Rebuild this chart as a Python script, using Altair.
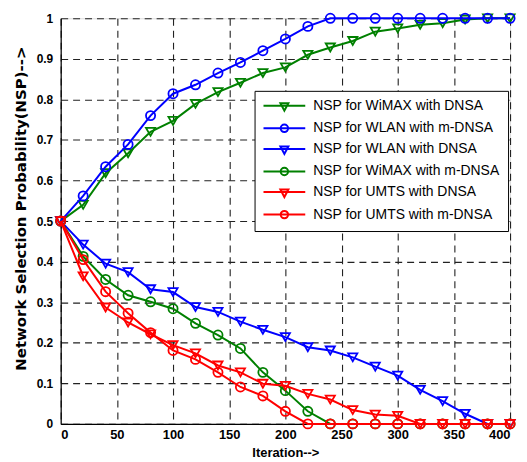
import altair as alt
import pandas as pd

iterations = list(range(0, 401, 20))

series_names = [
    "NSP for WiMAX with DNSA",
    "NSP for WLAN with m-DNSA",
    "NSP for WLAN with DNSA",
    "NSP for WiMAX with m-DNSA",
    "NSP for UMTS with DNSA",
    "NSP for UMTS with m-DNSA",
]
series_colors = ["#008000", "#0000ff", "#0000ff", "#008000", "#ff0000", "#ff0000"]
series_markers = ["triangle-down", "circle", "triangle-down", "circle", "triangle-down", "circle"]

wimax_dnsa = [0.5, 0.540, 0.618, 0.667, 0.720, 0.747, 0.789, 0.818, 0.841, 0.865, 0.879,
              0.910, 0.928, 0.944, 0.967, 0.975, 0.984, 0.988, 0.997, 1.0, 1.0]
wlan_mdnsa = [0.5, 0.562, 0.634, 0.689, 0.760, 0.814, 0.836, 0.865, 0.891, 0.920, 0.949,
              0.980, 1.0, 1.0, 1.0, 1.0, 1.0, 1.0, 1.0, 1.0, 1.0]
wlan_dnsa = [0.5, 0.442, 0.395, 0.374, 0.332, 0.325, 0.288, 0.276, 0.252, 0.232, 0.214,
             0.189, 0.181, 0.164, 0.141, 0.119, 0.084, 0.056, 0.025, 0.0, 0.0]
wimax_mdnsa = [0.5, 0.413, 0.356, 0.317, 0.301, 0.284, 0.248, 0.219, 0.186, 0.127, 0.082,
               0.031, 0.0, 0.0, 0.0, 0.0, 0.0, 0.0, 0.0, 0.0, 0.0]
umts_dnsa = [0.5, 0.364, 0.287, 0.250, 0.221, 0.194, 0.174, 0.144, 0.127, 0.099, 0.094,
             0.074, 0.060, 0.034, 0.023, 0.020, 0.0, 0.0, 0.0, 0.0, 0.0]
umts_mdnsa = [0.5, 0.405, 0.326, 0.273, 0.225, 0.181, 0.159, 0.127, 0.091, 0.069, 0.031,
              0.0, 0.0, 0.0, 0.0, 0.0, 0.0, 0.0, 0.0, 0.0, 0.0]

series_values = [wimax_dnsa, wlan_mdnsa, wlan_dnsa, wimax_mdnsa, umts_dnsa, umts_mdnsa]

x_ticks = [0, 50, 100, 150, 200, 250, 300, 350, 400]
y_ticks = [0, 0.1, 0.2, 0.3, 0.4, 0.5, 0.6, 0.7, 0.8, 0.9, 1]

# legend symbols: line with an open marker in the middle
legend_paths = [
    "M-1.2,0H7.2M2.2,-0.5H3.8L3,1Z",
    "M-1.2,0H7.2M3.75,0A0.75,0.75 0 1,1 2.25,0A0.75,0.75 0 1,1 3.75,0",
    "M-1.2,0H7.2M2.2,-0.5H3.8L3,1Z",
    "M-1.2,0H7.2M3.75,0A0.75,0.75 0 1,1 2.25,0A0.75,0.75 0 1,1 3.75,0",
    "M-1.2,0H7.2M2.2,-0.5H3.8L3,1Z",
    "M-1.2,0H7.2M3.75,0A0.75,0.75 0 1,1 2.25,0A0.75,0.75 0 1,1 3.75,0",
]

rows = []
for name, vals in zip(series_names, series_values):
    for it, v in zip(iterations, vals):
        rows.append({"iteration": it, "nsp": v, "series": name})
df = pd.DataFrame(rows)

FONT = "Liberation Sans"

x_enc = alt.X(
    "iteration:Q",
    scale=alt.Scale(domain=[0, 400], nice=False, zero=False),
    axis=alt.Axis(
        values=x_ticks, title="Iteration-->", ticks=False, labelPadding=5,
        labelFont=FONT, labelFontWeight="bold", labelFontSize=13, labelColor="black",
        titleFont=FONT, titleFontWeight="bold", titleFontSize=13, titleColor="black",
        titlePadding=5, domainColor="black", domainWidth=1.2,
        grid=True, gridColor="#222222", gridDash=[7, 5], gridWidth=1.1, gridOpacity=1,
    ),
)
y_enc = alt.Y(
    "nsp:Q",
    scale=alt.Scale(domain=[0, 1], nice=False),
    axis=alt.Axis(
        values=y_ticks, format="~g", title="Network Selection Probability(NSP)-->",
        ticks=False, labelPadding=8,
        labelFont=FONT, labelFontWeight="bold", labelFontSize=12, labelColor="black",
        titleFont="DejaVu Sans", titleFontWeight="bold", titleFontSize=15, titleColor="black",
        titlePadding=8, titleY=191, domainColor="black", domainWidth=1.2,
        grid=True, gridColor="#222222", gridDash=[7, 5], gridWidth=1.1, gridOpacity=1,
    ),
)

base = alt.Chart(df)

layers = []
for name, color, marker in zip(series_names, series_colors, series_markers):
    sub = base.transform_filter(alt.datum.series == name)
    layers.append(sub.mark_line(color=color, strokeWidth=2).encode(x=x_enc, y=y_enc))
    layers.append(
        sub.mark_point(shape=marker, color=color, filled=False, size=85, strokeWidth=1.8, opacity=1)
        .encode(x=x_enc, y=y_enc)
    )

legend = alt.Legend(
    title=None, orient="none", legendX=195, legendY=73,
    labelFont=FONT, labelFontSize=14, labelColor="black", labelLimit=400,
    symbolSize=100, symbolStrokeWidth=2, labelOffset=37,
    padding=8, rowPadding=5.7, strokeColor="black", fillColor="white",
)

legend_layer = base.transform_filter("datum.iteration < 0").mark_point(
    filled=False, strokeWidth=2, opacity=1
).encode(
    x=x_enc, y=y_enc,
    color=alt.Color("series:N", scale=alt.Scale(domain=series_names, range=series_colors), legend=legend),
    shape=alt.Shape("series:N", scale=alt.Scale(domain=series_names, range=legend_paths), legend=legend),
)
layers.append(legend_layer)

chart = alt.layer(*layers).properties(
    width=452, height=408,
    padding={"left": 5, "top": 0, "right": 0, "bottom": 0},
).configure_view(stroke="black", strokeWidth=1.2).configure(background="white")

chart.save("out.html", embed_options={"renderer": "svg", "actions": False})
